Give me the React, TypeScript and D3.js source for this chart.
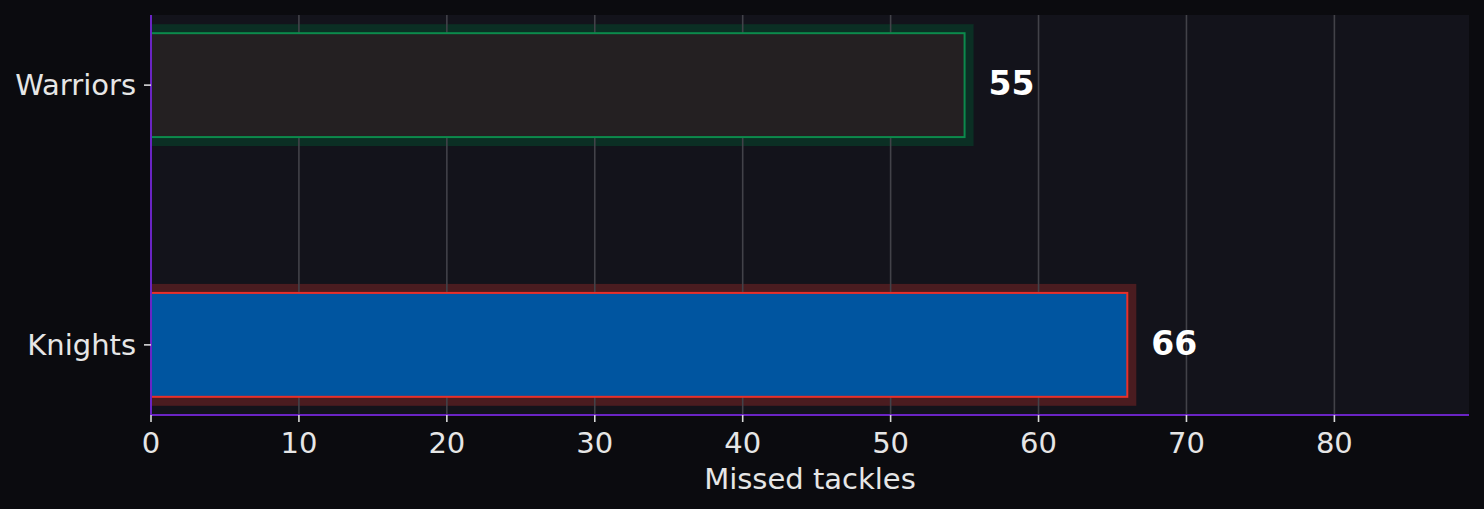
import React from "react";
import * as d3 from "d3";

const categories = ["Warriors", "Knights"];
const values = [55, 66];
const fills = ["#242022", "#0055a0"];
const strokes = ["#0c8a4c", "#e8302a"];
const glows = ["#0b2f24", "#4a1c20"];
const xTicks = [0, 10, 20, 30, 40, 50, 60, 70, 80];
const xLabel = "Missed tackles";

const W = 1484;
const H = 509;
const M = { left: 151, right: 15, top: 15, bottom: 94 };

export default function App() {
  const x = d3.scaleLinear().domain([0, 66 * 1.35]).range([M.left, W - M.right]);
  const y = d3
    .scaleBand<string>()
    .domain(categories)
    .range([M.top, H - M.bottom])
    .paddingInner(0.6)
    .paddingOuter(0.07);
  const bw = y.bandwidth();
  const font = "'DejaVu Sans', sans-serif";
  return (
    <div style={{ position: "fixed", left: 0, top: 0, width: W, height: H, background: "#0b0b0f" }}>
      <svg width={W} height={H} style={{ display: "block" }}>
        <rect x={0} y={0} width={W} height={H} fill="#0b0b0f" />
        <rect x={M.left} y={M.top} width={W - M.left - M.right} height={H - M.top - M.bottom} fill="#13131b" />
        {categories.map((c, i) => (
          <rect
            key={"g" + c}
            x={x(0)}
            y={(y(c) as number) - 9}
            width={x(values[i]) - x(0) + 9}
            height={bw + 18}
            fill={glows[i]}
          />
        ))}
        {xTicks.map((t) => (
          <line key={"gl" + t} x1={x(t)} x2={x(t)} y1={M.top} y2={H - M.bottom} stroke="#424249" strokeWidth={1.6} />
        ))}
        {categories.map((c, i) => (
          <rect
            key={"b" + c}
            x={x(0)}
            y={y(c)}
            width={x(values[i]) - x(0)}
            height={bw}
            fill={fills[i]}
            stroke={strokes[i]}
            strokeWidth={2}
          />
        ))}
        {categories.map((c, i) => (
          <text
            key={"v" + c}
            x={x(values[i]) + 24}
            y={(y(c) as number) + bw / 2}
            dy="0.31em"
            fill="#ffffff"
            fontFamily={font}
            fontWeight="bold"
            fontSize={33}
          >
            {values[i]}
          </text>
        ))}
        <line x1={M.left} x2={M.left} y1={M.top} y2={H - M.bottom} stroke="#6a24c4" strokeWidth={2} />
        <line x1={M.left} x2={W - M.right} y1={H - M.bottom} y2={H - M.bottom} stroke="#6a24c4" strokeWidth={2} />
        {categories.map((c) => (
          <g key={"yt" + c}>
            <line
              x1={M.left - 7}
              x2={M.left}
              y1={(y(c) as number) + bw / 2}
              y2={(y(c) as number) + bw / 2}
              stroke="#d8d8d8"
              strokeWidth={1.6}
            />
            <text
              x={M.left - 15}
              y={(y(c) as number) + bw / 2}
              dy="0.35em"
              textAnchor="end"
              fill="#e6e6e6"
              fontFamily={font}
              fontSize={29}
            >
              {c}
            </text>
          </g>
        ))}
        {xTicks.map((t) => (
          <g key={"xt" + t}>
            <line x1={x(t)} x2={x(t)} y1={H - M.bottom} y2={H - M.bottom + 7} stroke="#d8d8d8" strokeWidth={1.6} />
            <text
              x={x(t)}
              y={H - M.bottom + 28}
              dy="0.35em"
              textAnchor="middle"
              fill="#e6e6e6"
              fontFamily={font}
              fontSize={29}
            >
              {t}
            </text>
          </g>
        ))}
        <text
          x={(M.left + W - M.right) / 2}
          y={H - 30}
          dy="0.35em"
          textAnchor="middle"
          fill="#e6e6e6"
          fontFamily={font}
          fontSize={29}
        >
          {xLabel}
        </text>
      </svg>
    </div>
  );
}
